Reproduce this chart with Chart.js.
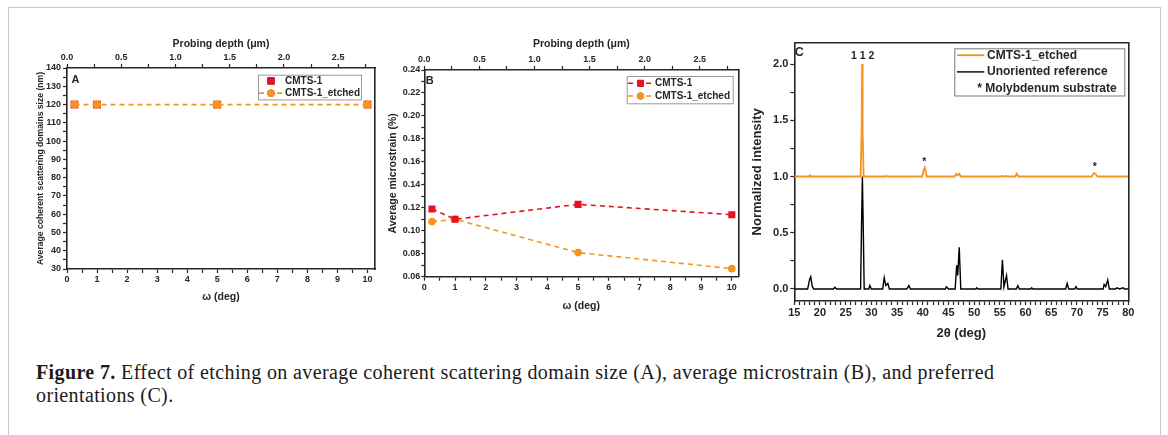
<!DOCTYPE html>
<html>
<head>
<meta charset="utf-8">
<script src="https://cdn.jsdelivr.net/npm/chart.js@4.4.0/dist/chart.umd.min.js"></script>
<style>
  body { margin: 0; width: 1168px; height: 435px; background: #fff; position: relative; overflow: hidden; }
  .frame { position: absolute; left: 8px; top: 7px; width: 1153px; height: 460px; border: 1px solid #c8c8c8; box-sizing: border-box; }
  canvas { position: absolute; }
  #caption { position: absolute; left: 36px; top: 361px; font-family: "Liberation Serif", serif; font-size: 20px; letter-spacing: 0.38px; line-height: 23px; color: #1a1a1a; white-space: nowrap; }
</style>
</head>
<body>
<div class="frame"></div>
<canvas id="chartA" width="370" height="300" style="left:20px;top:20px"></canvas>
<canvas id="chartB" width="370" height="300" style="left:385px;top:20px"></canvas>
<canvas id="chartC" width="415" height="325" style="left:745px;top:20px"></canvas>
<div id="caption"><b>Figure 7.</b> Effect of etching on average coherent scattering domain size (A), average microstrain (B), and preferred<br>orientations (C).</div>

<script>
// panel A/B data
const omega = [0.25, 1, 5, 10];
const sizeCMTS = [120, 120, 120, 120];
const sizeEtched = [120, 120, 120, 120];
const strainCMTS = [0.119, 0.110, 0.123, 0.114];
const strainEtched = [0.108, 0.110, 0.081, 0.067];

// tick labels
const omegaTicks = [0, 1, 2, 3, 4, 5, 6, 7, 8, 9, 10];
const depthTicks = [0, 0.5, 1.0, 1.5, 2.0, 2.5];
const sizeTicks = [30, 40, 50, 60, 70, 80, 90, 100, 110, 120, 130, 140];
const strainTicks = [0.06, 0.08, 0.10, 0.12, 0.14, 0.16, 0.18, 0.20, 0.22, 0.24];
const thetaTicks = [15, 20, 25, 30, 35, 40, 45, 50, 55, 60, 65, 70, 75, 80];
const intensityTicks = [0, 0.5, 1.0, 1.5, 2.0];

// panel C: unoriented reference pattern
const refTheta = [15, 17.6, 18.0, 18.2, 18.5, 18.8, 22.6, 22.9, 23.2, 27.9, 28.1, 28.25, 28.4, 28.6,
  29.5, 29.7, 30.0, 32.2, 32.5, 32.8, 33.2, 33.5, 36.9, 37.3, 37.6, 44.4, 44.6, 45.0,
  46.3, 46.6, 46.8, 47.1, 47.4, 50.3, 50.5, 50.7, 55.2, 55.5, 55.8, 56.3, 56.6, 58.2, 58.5, 58.8,
  61.0, 61.2, 61.4, 67.8, 68.1, 68.4, 69.6, 69.8, 70.1, 75.1, 75.3, 75.6, 76.0, 76.3,
  77.5, 77.8, 78.3, 79.0, 79.3, 80];
const refIntensity = [0, 0, 0.09, 0.11, 0.02, 0, 0, 0.015, 0, 0, 0.6, 1.0, 0.6, 0,
  0, 0.03, 0, 0, 0.1, 0.03, 0.05, 0, 0, 0.03, 0, 0, 0.02, 0,
  0, 0.21, 0.12, 0.37, 0, 0, 0.01, 0, 0, 0.26, 0.02, 0.12, 0, 0, 0.03, 0,
  0, 0.01, 0, 0, 0.05, 0, 0, 0.02, 0, 0, 0.04, 0.02, 0.08, 0,
  0, 0.01, 0, 0.01, 0, 0];

// panel C: etched film pattern
const etchTheta = [15, 17.8, 18.0, 18.2, 27.9, 28.1, 28.2, 28.3, 28.5, 32.7, 33.0, 33.3,
  39.9, 40.2, 40.4, 40.8, 46.2, 46.5, 46.8, 47.1, 47.4, 55.2, 55.5, 55.8, 56.3, 56.6,
  58.0, 58.3, 58.6, 72.9, 73.3, 73.6, 74.0, 80];
const etchIntensity = [1.0, 1.0, 1.01, 1.0, 1.0, 1.4, 2.0, 1.4, 1.0, 1.0, 1.005, 1.0,
  1.0, 1.06, 1.08, 1.0, 1.0, 1.025, 1.01, 1.025, 1.0, 1.0, 1.005, 1.0, 1.005, 1.0,
  1.0, 1.025, 1.0, 1.0, 1.03, 1.025, 1.0, 1.0];

const peakLabelTheta = [28.3, 40.3, 73.5];
const peakLabelY = [2.07, 1.13, 1.08];
const peakLabelText = ['1 1 2', '*', '*'];

const INK = '#262626';
const RED = '#e3141f';
const ORANGE = '#f7941d';
const FAMILY = '"Liberation Sans", Arial, sans-serif';
const font = (size) => ({ family: FAMILY, size: size, weight: 'bold' });

// major ticks carry a label, (n-1) unlabeled minor ticks between them
function withMinor(major, n, max) {
  const out = [];
  for (let i = 0; i < major.length; i++) {
    out.push({ value: major[i], lab: true });
    const step = i < major.length - 1 ? major[i + 1] - major[i] : major[i] - major[i - 1];
    for (let k = 1; k < n; k++) {
      const v = major[i] + step * k / n;
      if (i < major.length - 1 || (max !== undefined && v <= max + 1e-9)) out.push({ value: v });
    }
  }
  return out;
}

function axis(o) {
  const hasTicks = !!o.ticks;
  return {
    type: 'linear',
    position: o.pos,
    min: o.min,
    max: o.max,
    afterBuildTicks: hasTicks ? (s) => { s.ticks = o.ticks; } : undefined,
    afterFit: (s) => { if (s.isHorizontal()) s.height = o.size; else s.width = o.size; },
    ticks: {
      display: hasTicks,
      autoSkip: false,
      maxRotation: 0,
      padding: o.pad ?? 1,
      color: INK,
      font: font(o.fs ?? 9),
      callback: (v, i, t) => (t[i] && t[i].lab ? o.fmt(v) : '')
    },
    grid: { drawOnChartArea: false, drawTicks: hasTicks, tickLength: o.tl ?? 4, tickColor: INK, tickWidth: 1.2 },
    border: { display: true, color: INK, width: 1.6 },
    title: o.title ? { display: true, text: o.title, color: INK, font: font(o.tfs), padding: o.tpad } : { display: false }
  };
}

// Origin-like legend box in the top right corner of the plot
const boxLegend = {
  id: 'boxLegend',
  afterDraw(chart, args, opts) {
    if (!opts.width) return;
    const ctx = chart.ctx, a = chart.chartArea;
    const left = a.right - opts.right - opts.width, top = a.top + opts.top;
    const items = chart.data.datasets.filter(d => d.label);
    const rows = items.length + (opts.extra ? opts.extra.length : 0);
    ctx.save();
    ctx.strokeStyle = opts.boxColor;
    ctx.lineWidth = 1;
    ctx.strokeRect(left + 0.5, top + 0.5, opts.width, opts.rowH * (rows - 1) + opts.first * 2);
    ctx.font = 'bold ' + opts.fs + 'px ' + FAMILY;
    ctx.textBaseline = 'middle';
    ctx.fillStyle = INK;
    items.forEach((d, i) => {
      const y = top + opts.first + i * opts.rowH;
      if (d.showLine !== false) {
        ctx.save();
        ctx.strokeStyle = d.borderColor;
        ctx.lineWidth = d.borderWidth || 1.5;
        ctx.setLineDash(d.borderDash || []);
        ctx.beginPath();
        ctx.moveTo(left + opts.sw0, y);
        ctx.lineTo(left + opts.sw1, y);
        ctx.stroke();
        ctx.restore();
      }
      if (d.pointRadius) {
        Chart.helpers.drawPoint(ctx, {
          pointStyle: d.pointStyle, radius: d.pointRadius * 0.85, borderWidth: 1
        }, left + (opts.sw0 + opts.sw1) / 2, y);
        ctx.fillStyle = d.backgroundColor;
        ctx.strokeStyle = d.borderColor;
        ctx.fill();
        ctx.stroke();
      }
      ctx.fillStyle = INK;
      ctx.fillText(d.label, left + opts.text, y);
    });
    (opts.extra || []).forEach((t, j) => {
      const y = top + opts.first + (items.length + j) * opts.rowH;
      ctx.fillText(t, left + opts.extraX, y);
    });
    ctx.restore();
  }
};

// panel letter and text marks placed on data coordinates
const marks = {
  id: 'marks',
  afterDraw(chart, args, opts) {
    const ctx = chart.ctx, a = chart.chartArea;
    ctx.save();
    ctx.fillStyle = INK;
    ctx.textBaseline = 'middle';
    if (opts.letter) {
      ctx.font = 'bold ' + opts.letterSize + 'px ' + FAMILY;
      ctx.textAlign = 'left';
      ctx.fillText(opts.letter, a.left + opts.letterX, a.top + opts.letterY);
    }
    if (opts.xs) {
      ctx.font = 'bold ' + opts.fs + 'px ' + FAMILY;
      ctx.textAlign = 'center';
      const sx = chart.scales.x, sy = chart.scales.y;
      opts.xs.forEach((x, i) => {
        ctx.fillText(opts.texts[i], sx.getPixelForValue(x), sy.getPixelForValue(opts.ys[i]));
      });
    }
    ctx.restore();
  }
};

Chart.register(boxLegend, marks);

const pts = (xs, ys) => xs.map((x, i) => ({ x: x, y: ys[i] }));

new Chart(document.getElementById('chartA'), {
  type: 'line',
  data: {
    datasets: [
      { label: 'CMTS-1', data: pts(omega, sizeCMTS), showLine: false, pointStyle: 'rect', pointRadius: 5.5,
        backgroundColor: RED, borderColor: RED, pointBorderWidth: 0, order: 2 },
      { label: 'CMTS-1_etched', data: pts(omega, sizeEtched), borderColor: ORANGE, backgroundColor: ORANGE,
        borderDash: [5, 4], borderWidth: 1.8, pointStyle: 'circle', pointRadius: 4, pointBorderWidth: 0, order: 1 }
    ]
  },
  options: {
    responsive: false, animation: false,
    layout: { padding: 0 },
    scales: {
      x: axis({ pos: 'bottom', min: 0, max: 10.25, size: 51, ticks: withMinor(omegaTicks, 2), fmt: v => String(v),
        title: 'ω (deg)', tfs: 10.5, tpad: { top: 0, bottom: 17 } }),
      x2: axis({ pos: 'top', min: 0, max: 2.84, size: 48, ticks: withMinor(depthTicks, 2, 2.84), fmt: v => v.toFixed(1),
        title: 'Probing depth (μm)', tfs: 10.5, tpad: { top: 17.5, bottom: 0 } }),
      y: axis({ pos: 'left', min: 30, max: 140, size: 47, ticks: withMinor(sizeTicks, 2), fmt: v => String(v), pad: 2,
        title: 'Average coherent scattering domains size (nm)', tfs: 8.6, tpad: { top: 15.5, bottom: 0 } }),
      y2: axis({ pos: 'right', min: 30, max: 140, size: 15 })
    },
    plugins: {
      legend: { display: false }, tooltip: { enabled: false },
      boxLegend: { right: 14, top: 6.7, width: 103, rowH: 12.3, first: 6.2, fs: 10, sw0: 1, sw1: 25, text: 27, boxColor: '#9a9a9a' },
      marks: { letter: 'A', letterSize: 11, letterX: 4.5, letterY: 12.4 }
    }
  }
});

new Chart(document.getElementById('chartB'), {
  type: 'line',
  data: {
    datasets: [
      { label: 'CMTS-1', data: pts(omega, strainCMTS), borderColor: RED, backgroundColor: RED,
        borderDash: [5, 4], borderWidth: 1.6, pointStyle: 'rect', pointRadius: 5, pointBorderWidth: 0 },
      { label: 'CMTS-1_etched', data: pts(omega, strainEtched), borderColor: ORANGE, backgroundColor: ORANGE,
        borderDash: [5, 4], borderWidth: 1.6, pointStyle: 'circle', pointRadius: 3.8, pointBorderWidth: 0 }
    ]
  },
  options: {
    responsive: false, animation: false,
    layout: { padding: 0 },
    scales: {
      x: axis({ pos: 'bottom', min: 0, max: 10.21, size: 43.3, ticks: withMinor(omegaTicks, 2), fmt: v => String(v),
        title: 'ω (deg)', tfs: 10.5, tpad: { top: 0, bottom: 7.4 } }),
      x2: axis({ pos: 'top', min: 0, max: 2.85, size: 50, ticks: withMinor(depthTicks, 2, 2.85), fmt: v => v.toFixed(1),
        title: 'Probing depth (μm)', tfs: 10.5, tpad: { top: 18, bottom: 0 } }),
      y: axis({ pos: 'left', min: 0.06, max: 0.24, size: 39.3, ticks: withMinor(strainTicks, 2), fmt: v => v.toFixed(2),
        tl: 3, pad: 1, title: 'Average microstrain (%)', tfs: 10.5, tpad: { top: 2, bottom: 0 } }),
      y2: axis({ pos: 'right', min: 0.06, max: 0.24, size: 16.7 })
    },
    plugins: {
      legend: { display: false }, tooltip: { enabled: false },
      boxLegend: { right: 5.6, top: 6, width: 106, rowH: 12.7, first: 7.3, fs: 10, sw0: 1.3, sw1: 26.3, text: 28.3, boxColor: '#9a9a9a' },
      marks: { letter: 'B', letterSize: 11, letterX: 1.5, letterY: 11 }
    }
  }
});

new Chart(document.getElementById('chartC'), {
  type: 'line',
  data: {
    datasets: [
      { label: 'CMTS-1_etched', data: pts(etchTheta, etchIntensity), borderColor: ORANGE, borderWidth: 1.8,
        pointRadius: 0, order: 1 },
      { label: 'Unoriented reference', data: pts(refTheta, refIntensity), borderColor: '#000', borderWidth: 1.4,
        pointRadius: 0, order: 2 }
    ]
  },
  options: {
    responsive: false, animation: false,
    layout: { padding: 0 },
    scales: {
      x: axis({ pos: 'bottom', min: 15, max: 80, size: 44, ticks: withMinor(thetaTicks, 5), fmt: v => String(v),
        fs: 11, pad: 1.4, title: '2θ (deg)', tfs: 13, tpad: { top: 0, bottom: 4.2 } }),
      x2: axis({ pos: 'top', min: 15, max: 80, size: 22.7 }),
      y: axis({ pos: 'left', min: -0.107, max: 2.19, size: 49.3, ticks: withMinor(intensityTicks, 2), fmt: v => v.toFixed(1),
        fs: 11, pad: 2, title: 'Normalized intensity', tfs: 13, tpad: { top: 4.5, bottom: 0 } }),
      y2: axis({ pos: 'right', min: -0.107, max: 2.19, size: 31.7 })
    },
    plugins: {
      legend: { display: false }, tooltip: { enabled: false },
      boxLegend: { right: 4, top: 5.6, width: 170, rowH: 16.7, first: 6.9, fs: 12, sw0: 2.7, sw1: 30, text: 32.7,
        extra: ['* Molybdenum substrate'], extraX: 23, boxColor: '#7a7a7a' },
      marks: { letter: 'C', letterSize: 12.5, letterX: 0.5, letterY: 10.3,
        xs: peakLabelTheta, ys: peakLabelY, texts: peakLabelText, fs: 10.5 }
    }
  }
});
</script>
</body>
</html>
